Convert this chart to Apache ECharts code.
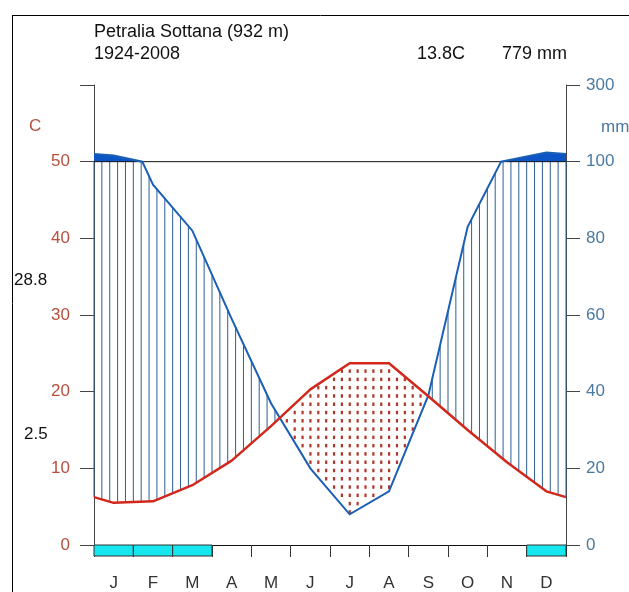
<!DOCTYPE html>
<html>
<head>
<meta charset="utf-8">
<script src="https://cdn.jsdelivr.net/npm/echarts@6/dist/echarts.min.js"></script>
<style>html,body{margin:0;padding:0;background:#fff;}#c{width:629px;height:592px;}</style>
</head>
<body>
<div id="c"></div>
<script>
// ---- data ----
const months = ['J','F','M','A','M','J','J','A','S','O','N','D'];
const temperature = [5.5, 5.7, 7.8, 11.0, 15.5, 20.3, 23.7, 23.7, 19.4, 15.0, 10.8, 7.0];   // °C
const precipitation = [116, 94, 82, 59, 37, 20, 8, 14, 39, 83, 103, 124];                  // mm
const frostMonths = [1, 1, 1, 0, 0, 0, 0, 0, 0, 0, 0, 1];
const tempTicks = [0, 10, 20, 30, 40, 50];
const precipTicks = [0, 20, 40, 60, 80, 100, 300];
const stationTitle = 'Petralia Sottana (932 m)';
const period = '1924-2008';
const meanTempText = '13.8C';
const totalPrecipText = '779 mm';
const maxTempText = '28.8';
const minTempText = '2.5';

// ---- helpers ----
const FAMILY = '"Liberation Sans", Arial, sans-serif';
const FONT = '18px ' + FAMILY;
const AXFONT = '17px ' + FAMILY;
function pd(mm) { return mm <= 100 ? mm / 2 : 50 + (mm - 100) / 20; }   // mm -> display (°C scale)
function pdInv(v) { return v <= 50 ? v * 2 : 100 + (v - 50) * 20; }

const xs = [0].concat(months.map((m, i) => i + 0.5)).concat([12]);
const tEdge = (temperature[0] + temperature[11]) / 2;
const pEdge = (precipitation[0] + precipitation[11]) / 2;
const tVals = [tEdge].concat(temperature).concat([tEdge]);
const pVals = [pEdge].concat(precipitation).concat([pEdge]);

function interp(X, V, x) {
  for (let i = 0; i < X.length - 1; i++) {
    if (x >= X[i] && x <= X[i + 1]) {
      const f = (x - X[i]) / (X[i + 1] - X[i]);
      return V[i] + f * (V[i + 1] - V[i]);
    }
  }
  return V[V.length - 1];
}

// display polyline of precipitation with kink where it crosses 100 mm
function precipPolyline() {
  const pts = [];
  for (let i = 0; i < xs.length; i++) {
    if (i > 0) {
      const a = pVals[i - 1], b = pVals[i];
      if ((a - 100) * (b - 100) < 0) {
        const f = (100 - a) / (b - a);
        pts.push([xs[i - 1] + f * (xs[i] - xs[i - 1]), 50]);
      }
    }
    pts.push([xs[i], pd(pVals[i])]);
  }
  return pts;
}

const chart = echarts.init(document.getElementById('c'), null, { renderer: 'canvas' });

function renderDiagram(params, api) {
  const children = [];
  const c = (x, v) => api.coord([x, v]);
  const poly = precipPolyline();

  // dark fill above 100 mm
  const fillPts = poly.map(p => c(p[0], Math.max(p[1], 50)));
  fillPts.push(c(12, 50)); fillPts.push(c(0, 50));
  children.push({ type: 'polygon', shape: { points: fillPts }, style: { fill: '#0b55c6', stroke: null }, z2: 1 });

  // hatching (humid)
  const N = 60;
  for (let k = 0; k <= N; k++) {
    const x = k * 12 / N;
    const t = interp(xs, tVals, x);
    const d = pd(interp(xs, pVals, x));
    if (d > t) {
      const p1 = c(x, t), p2 = c(x, Math.min(d, 50));
      children.push({ type: 'line', shape: { x1: p1[0], y1: p1[1], x2: p2[0], y2: p2[1] },
        style: { stroke: '#2a5e96', lineWidth: 1 }, z2: 2 });
    }
  }
  // dots (arid), columns between hatch columns
  const rowStep = 1.08;
  for (let k = 0; k < N; k++) {
    const x = (k + 0.5) * 12 / N;
    const t = interp(xs, tVals, x);
    const d = pd(interp(xs, pVals, x));
    if (d < t) {
      const xp = c(x, 0)[0];
      for (let j = Math.ceil((d + 0.3) / rowStep); j * rowStep < t - 0.3; j++) {
        const yp = c(x, j * rowStep)[1];
        children.push({ type: 'rect', shape: { x: xp - 1, y: yp - 1.75, width: 2.2, height: 3.5 },
          style: { fill: '#b03628' }, z2: 2 });
      }
    }
  }

  // 50 °C / 100 mm line
  const l0 = c(0, 50), l1 = c(12, 50);
  children.push({ type: 'line', shape: { x1: l0[0], y1: l0[1], x2: l1[0], y2: l1[1] },
    style: { stroke: '#111', lineWidth: 1 }, z2: 3 });

  // precipitation line
  children.push({ type: 'polyline', shape: { points: poly.map(p => c(p[0], p[1])) },
    style: { stroke: '#1a5fb4', lineWidth: 2, fill: null }, z2: 5 });

  // frost months boxes
  frostMonths.forEach((f, i) => {
    if (!f) return;
    const a = c(i, 0), b = c(i + 1, 0);
    children.push({ type: 'rect', shape: { x: a[0], y: a[1], width: b[0] - a[0], height: 11 },
      style: { fill: '#16e6ee', stroke: '#333', lineWidth: 1 }, z2: 4 });
  });
  return { type: 'group', children: children };
}

const option = {
  animation: false,
  backgroundColor: '#fff',
  grid: { left: 94, right: 63, top: 85, bottom: 45, containLabel: false },
  xAxis: [
    { type: 'category', data: months, boundaryGap: true, position: 'bottom',
      axisLine: { show: true, lineStyle: { color: '#111', width: 1 } },
      axisTick: { show: true, length: 12, lineStyle: { color: '#333' } },
      axisLabel: { color: '#333', fontSize: 17, fontFamily: FAMILY, margin: 30 },
      splitLine: { show: false } },
    { type: 'value', min: 0, max: 12, show: false }
  ],
  yAxis: [
    { type: 'value', position: 'left', min: 0, max: 60, interval: 10,
      axisLine: { show: true, lineStyle: { color: '#444', width: 1 } },
      axisTick: { show: true, length: 14, lineStyle: { color: '#444' } },
      axisLabel: { color: '#b5503e', fontSize: 17, fontFamily: FAMILY, margin: 24,
        formatter: v => (tempTicks.indexOf(v) >= 0 ? String(v) : '') },
      splitLine: { show: false } },
    { type: 'value', position: 'right', min: 0, max: 60, interval: 10,
      axisLine: { show: true, lineStyle: { color: '#444', width: 1 } },
      axisTick: { show: true, length: 14, lineStyle: { color: '#444' } },
      axisLabel: { color: '#4a7aa2', fontSize: 17, fontFamily: FAMILY, margin: 20,
        formatter: v => { const mm = pdInv(v); return precipTicks.indexOf(mm) >= 0 ? String(mm) : ''; } },
      splitLine: { show: false } }
  ],
  series: [
    { type: 'custom', xAxisIndex: 1, yAxisIndex: 0, data: [[0, 0]], clip: false,
      renderItem: renderDiagram, z: 2, silent: true },
    { type: 'line', xAxisIndex: 1, yAxisIndex: 0, data: xs.map((x, i) => [x, tVals[i]]),
      symbol: 'none', lineStyle: { color: '#d2281c', width: 2.5 }, z: 4, silent: true }
  ],
  graphic: [
    { type: 'line', shape: { x1: 12, y1: 15.5, x2: 629, y2: 15.5 }, style: { stroke: '#000', lineWidth: 1 } },
    { type: 'line', shape: { x1: 12.5, y1: 15, x2: 12.5, y2: 592 }, style: { stroke: '#000', lineWidth: 1 } },
    { type: 'text', style: { x: 94, y: 32, text: stationTitle, font: FONT, fill: '#111', textVerticalAlign: 'middle' } },
    { type: 'text', style: { x: 94, y: 54, text: period, font: FONT, fill: '#111', textVerticalAlign: 'middle' } },
    { type: 'text', style: { x: 417, y: 54, text: meanTempText, font: FONT, fill: '#111', textVerticalAlign: 'middle' } },
    { type: 'text', style: { x: 502, y: 54, text: totalPrecipText, font: FONT, fill: '#111', textVerticalAlign: 'middle' } },
    { type: 'text', style: { x: 29, y: 126, text: 'C', font: AXFONT, fill: '#b5503e', textVerticalAlign: 'middle' } },
    { type: 'text', style: { x: 601, y: 127, text: 'mm', font: AXFONT, fill: '#4a7aa2', textVerticalAlign: 'middle' } },
    { type: 'text', style: { x: 14, y: 280, text: maxTempText, font: AXFONT, fill: '#111', textVerticalAlign: 'middle' } },
    { type: 'text', style: { x: 24, y: 434, text: minTempText, font: AXFONT, fill: '#111', textVerticalAlign: 'middle' } }
  ]
};
chart.setOption(option);
</script>
</body>
</html>
